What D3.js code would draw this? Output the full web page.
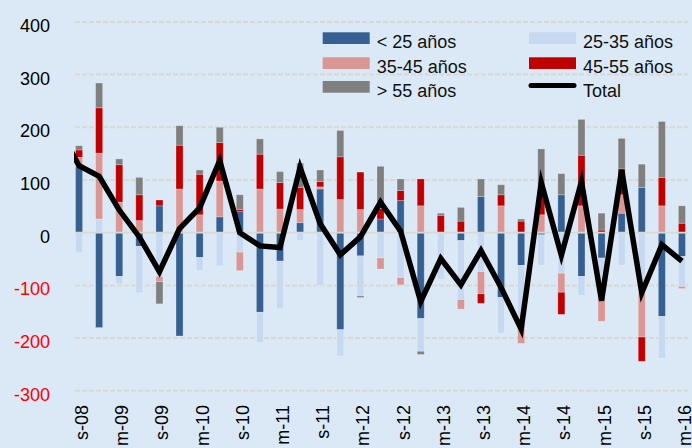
<!DOCTYPE html>
<html>
<head>
<meta charset="utf-8">
<script src="https://cdn.jsdelivr.net/npm/d3@7/dist/d3.min.js"></script>
<style>
    body { margin: 0; background: #dbe8f5; }
    svg { display: block; font-family: "Liberation Sans", Arial, sans-serif; }
</style>
</head>
<body>
<svg id="chart"></svg>
<script>
// quarters, only every other one gets a label
const categories = ["s-08", "d-08", "m-09", "j-09", "s-09", "d-09", "m-10", "j-10", "s-10", "d-10",
    "m-11", "j-11", "s-11", "d-11", "m-12", "j-12", "s-12", "d-12", "m-13", "j-13",
    "s-13", "d-13", "m-14", "j-14", "s-14", "d-14", "m-15", "j-15", "s-15", "d-15", "m-16"];
const tickLabels = ["s-08", "m-09", "s-09", "m-10", "s-10", "m-11", "s-11", "m-12",
    "s-12", "m-13", "s-13", "m-14", "s-14", "m-15", "s-15", "m-16"];
const yTicks = [400, 300, 200, 100, 0, -100, -200, -300];

const seriesNames = ["< 25 años", "25-35 años", "35-45 años", "45-55 años", "> 55 años"];
const under25 = [125, -180, -83, -26, 51, -196, -47, 30, 40, -151, -54, 19, 83, -184, -44, 26,
    61, -163, 0, -15, 69, -123, -62, -4, 72, -83, -48, 37, 86, -159, -45];
const age25to35 = [-38, 26, -14, -88, -83, 0, -25, -63, -37, -57, -90, -15, -100, -50, -76, -48,
    -85, -62, -88, -112, -74, -68, -106, -58, -77, -36, -76, -62, -113, -79, -57];
const age35to45 = [18, 125, 58, 23, -10, 83, 34, 68, -35, 83, 45, 25, 4, 63, 44, -21,
    -14, 51, 0, -18, -42, 51, -42, 34, -36, 51, -44, 35, -85, 51, -4];
const age45to55 = [14, 86, 71, 49, 11, 83, 77, 73, 4, 66, 50, 42, 10, 81, 71, 20,
    19, 51, 33, 22, -18, 21, 22, 48, -42, 96, 5, 49, -46, 54, 18];
const over55 = [8, 47, 11, 33, -42, 37, 8, 29, 28, 29, 21, 46, 22, 50, -3, 80,
    22, -6, 4, 26, 33, 19, 4, 77, 40, 68, 32, 58, 44, 106, 33];
const total = [127, 107, 43, -8, -74, 8, 47, 137, 0, -25, -28, 124, 17, -42, -8, 58,
    3, -131, -49, -99, -34, -104, -183, 95, -43, 97, -129, 119, -114, -23, -54];
// the quarter before s-08, only a clipped stub of the line shows
const totalBefore = 197;

const colors = ["#366092", "#c6d9f1", "#da9694", "#c00000", "#7f7f7f"];

class StackedTotalChart {
    plot = { left: 75, right: 688, top: 21.9, bottom: 390.8 }

    constructor(svg, width = 692, height = 448) {
        this.svg = svg;
        this.width = width;
        this.height = height;
    }

    initialize() {
        this.svg = d3.select(this.svg)
            .attr("width", this.width)
            .attr("height", this.height);

        this.xScale = d3.scaleBand()
            .domain(categories)
            .range([69, 692])
            .paddingInner(0.65)
            .paddingOuter(0.325);
        this.yScale = d3.scaleLinear()
            .domain([-300, 400])
            .range([this.plot.bottom, this.plot.top]);

        this.grid = this.svg.append("g");
        this.bars = this.svg.append("g");
        this.axisLine = this.svg.append("g");
        this.lineGroup = this.svg.append("g");
        this.yAxis = this.svg.append("g");
        this.xAxis = this.svg.append("g");
        this.legend = this.svg.append("g");

        this.svg.append("clipPath")
            .attr("id", "plot-clip")
            .append("rect")
            .attr("x", 74).attr("y", 0)
            .attr("width", this.width - 74).attr("height", this.height);
    }

    update() {
        const x = this.xScale, y = this.yScale;
        const center = c => x(c) + x.bandwidth() / 2;

        this.grid.selectAll("line")
            .data(yTicks.filter(d => d !== 0))
            .join("line")
            .attr("x1", this.plot.left)
            .attr("x2", this.plot.right)
            .attr("y1", d => y(d))
            .attr("y2", d => y(d))
            .attr("stroke", "#d9d9d4")
            .attr("stroke-width", 2)
            .attr("stroke-dasharray", "5,2");

        const rows = categories.map((c, i) => ({
            cat: c,
            [seriesNames[0]]: under25[i],
            [seriesNames[1]]: age25to35[i],
            [seriesNames[2]]: age35to45[i],
            [seriesNames[3]]: age45to55[i],
            [seriesNames[4]]: over55[i]
        }));
        const stacked = d3.stack()
            .keys(seriesNames)
            .offset(d3.stackOffsetDiverging)(rows);

        this.bars.selectAll("g")
            .data(stacked)
            .join("g")
            .attr("fill", (d, i) => colors[i])
            .selectAll("rect")
            .data(d => d)
            .join("rect")
            .attr("x", d => x(d.data.cat))
            .attr("width", x.bandwidth())
            .attr("y", d => y(Math.max(d[0], d[1])))
            .attr("height", d => Math.abs(y(d[0]) - y(d[1])))
            .attr("stroke", "rgba(255,255,255,0.3)")
            .attr("stroke-width", 0.8);

        this.axisLine.append("line")
            .attr("x1", this.plot.left)
            .attr("x2", this.plot.right)
            .attr("y1", y(0))
            .attr("y2", y(0))
            .attr("stroke", "#d9d9d4")
            .attr("stroke-width", 1.8);

        const points = [{ x: center(categories[0]) - x.step(), v: totalBefore }]
            .concat(categories.map((c, i) => ({ x: center(c), v: total[i] })));
        const line = d3.line().x(d => d.x).y(d => y(d.v));

        this.lineGroup.append("path")
            .attr("clip-path", "url(#plot-clip)")
            .attr("d", line(points))
            .attr("fill", "none")
            .attr("stroke", "#000")
            .attr("stroke-width", 5.5)
            .attr("stroke-linejoin", "miter")
            .attr("stroke-miterlimit", 6);

        this.yAxis.selectAll("text")
            .data(yTicks)
            .join("text")
            .attr("x", 50)
            .attr("y", d => y(d))
            .attr("dy", "0.55em")
            .attr("text-anchor", "end")
            .attr("font-size", "18px")
            .attr("fill", d => d < 0 ? "#ff0000" : "#000")
            .text(d => d);

        this.xAxis.selectAll("text")
            .data(tickLabels)
            .join("text")
            .attr("transform", d => `translate(${center(d) + 2.7}, 405) rotate(-90)`)
            .attr("dy", "0.35em")
            .attr("text-anchor", "end")
            .attr("font-size", "18px")
            .attr("fill", "#000")
            .text(d => d);

        this.addLegend();
    }

    addLegend() {
        const items = seriesNames.map((name, i) => ({ name, color: colors[i] }))
            .concat([{ name: "Total", color: "#000", isLine: true }]);
        const cols = [322.7, 529];
        const rowsY = [32.3, 57.3, 81];

        const item = this.legend.selectAll("g")
            .data(items)
            .join("g")
            .attr("transform", (d, i) => `translate(${cols[i % 2]}, ${rowsY[Math.floor(i / 2)]})`);

        item.filter(d => !d.isLine)
            .append("rect")
            .attr("width", 47)
            .attr("height", 11.7)
            .attr("fill", d => d.color);

        item.filter(d => d.isLine)
            .append("line")
            .attr("x1", 2).attr("x2", 45)
            .attr("y1", 4.5).attr("y2", 4.5)
            .attr("stroke", "#000")
            .attr("stroke-width", 5)
            .attr("stroke-linecap", "round");

        item.append("text")
            .attr("x", 54)
            .attr("y", 15.8)
            .attr("font-size", "18px")
            .attr("fill", "#111")
            .text(d => d.name);
    }
}

const chart = new StackedTotalChart(document.getElementById("chart"));
chart.initialize();
chart.update();
</script>
</body>
</html>
